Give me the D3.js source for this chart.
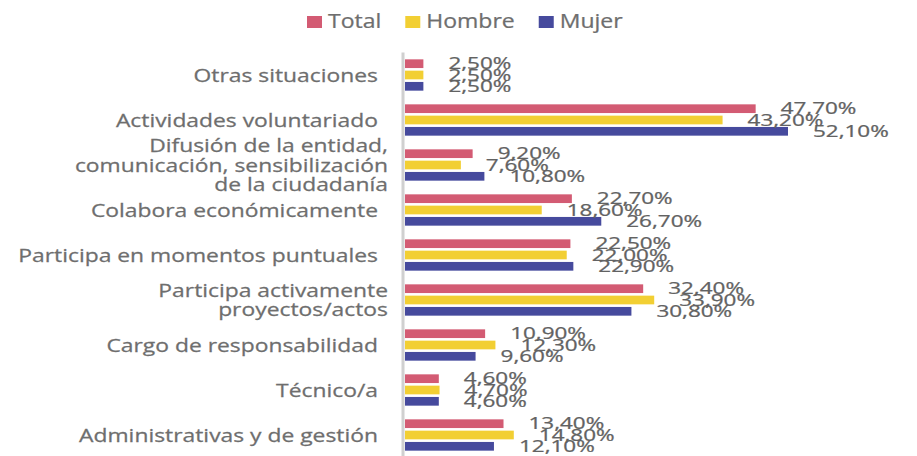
<!DOCTYPE html>
<html lang="es">
<head>
<meta charset="utf-8">
<title>Tipo de participación</title>
<script src="https://d3js.org/d3.v7.min.js"></script>
<style>
  body { margin: 0; background: #fff; }
  text { font-family: "Open Sans", sans-serif; fill: #6e6e6e; stroke: #6e6e6e; stroke-width: 0.25px; }
  .val text { fill: #626262; stroke: #626262; }
</style>
</head>
<body>
<svg id="chart" width="917" height="456"></svg>
<script>
  // categories, top to bottom
  const categories = [
    "Otras situaciones",
    "Actividades voluntariado",
    "Difusión de la entidad,\ncomunicación, sensibilización\nde la ciudadanía",
    "Colabora económicamente",
    "Participa en momentos puntuales",
    "Participa activamente\nproyectos/actos",
    "Cargo de responsabilidad",
    "Técnico/a",
    "Administrativas y de gestión"
  ];
  const seriesNames = ["Total", "Hombre", "Mujer"];
  const totalValues  = [2.5, 47.7, 9.2, 22.7, 22.5, 32.4, 10.9, 4.6, 13.4];
  const hombreValues = [2.5, 43.2, 7.6, 18.6, 22.0, 33.9, 12.3, 4.7, 14.8];
  const mujerValues  = [2.5, 52.1, 10.8, 26.7, 22.9, 30.8, 9.6, 4.6, 12.1];
  const colors = ["#d35b73", "#f2cf33", "#464a9d"];

  const seriesValues = [totalValues, hombreValues, mujerValues];
  const rows = [];
  categories.forEach((c, i) => {
    seriesNames.forEach((s, j) => rows.push({ cat: c, series: s, value: seriesValues[j][i], color: colors[j] }));
  });

  const svg = d3.select("#chart");
  const x0 = 405;

  let x = d3.scaleLinear().domain([0, 52.1]).range([x0, 788]);
  let y = d3.scaleBand().domain(categories).range([52.5, 457.5])
    .paddingInner(0.304).paddingOuter(0.152);
  let ySub = d3.scaleBand().domain(seriesNames).range([0, y.bandwidth()]).paddingInner(0.23);

  // stretched text helper (reference glyphs are wide)
  function stretchedText(parent, tx, ty, sx, str, opts) {
    let g = parent.append("g").attr("transform", `translate(${tx},${ty}) scale(${sx},1)`);
    let t = g.append("text")
      .attr("text-anchor", opts.anchor || "start")
      .style("font-size", opts.size + "px");
    let lines = str.split("\n");
    lines.forEach((l, k) => {
      t.append("tspan").attr("x", 0)
        .attr("dy", k == 0 ? ((-(lines.length - 1) / 2) * opts.lh + opts.shift) : opts.lh)
        .text(l);
    });
    return t;
  }

  // bars
  svg.append("g").selectAll("rect")
    .data(rows)
    .enter()
    .append("rect")
    .attr("x", x(0))
    .attr("y", d => y(d.cat) + ySub(d.series))
    .attr("width", d => x(d.value) - x(0))
    .attr("height", ySub.bandwidth())
    .attr("fill", d => d.color);

  // axis line
  svg.append("line")
    .attr("x1", x0 - 2).attr("x2", x0 - 2)
    .attr("y1", y.range()[0]).attr("y2", y.range()[1])
    .attr("stroke", "#d0d0d0").attr("stroke-width", 3);

  // value labels
  const fmt = v => v.toFixed(2).replace(".", ",") + "%";
  let labels = svg.append("g").attr("class", "val");
  rows.forEach(d => {
    stretchedText(labels, x(d.value) + 25, y(d.cat) + ySub(d.series) + ySub.bandwidth() / 2, 1.45,
      fmt(d.value), { size: 15.5, lh: 0, shift: 5.5 });
  });

  // category labels
  let cats = svg.append("g");
  categories.forEach(c => {
    let multi = c.indexOf("\n") >= 0;
    stretchedText(cats, multi ? 388 : 378, y(c) + y.bandwidth() / 2, 1.27, c,
      { size: 18, lh: 19.5, shift: 6.5, anchor: "end" });
  });

  // legend
  let legend = svg.append("g");
  let lx = 307;
  seriesNames.forEach((s, j) => {
    legend.append("rect").attr("x", lx).attr("y", 16).attr("width", 15).attr("height", 12).attr("fill", colors[j]);
    let t = stretchedText(legend, lx + 21, 28, 1.18, s, { size: 19.5, lh: 0, shift: 0 });
    lx += 21 + t.node().getComputedTextLength() * 1.18 + 24;
  });
</script>
</body>
</html>
